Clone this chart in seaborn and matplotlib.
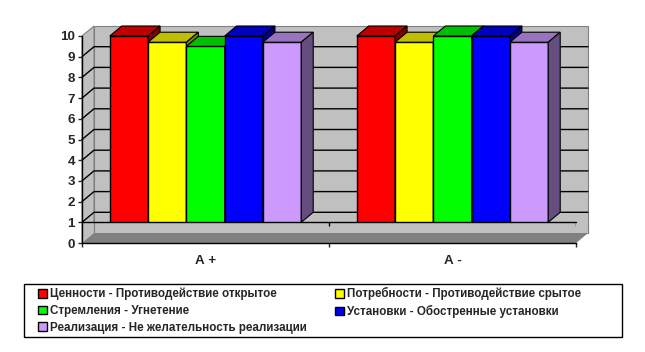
import matplotlib
matplotlib.use("Agg")
import matplotlib.pyplot as plt
import numpy as np
import pandas as pd
import seaborn as sns
from matplotlib.patches import Patch, Polygon, Rectangle

sns.set_style("white")
plt.rcParams['font.family'] = ['Liberation Sans', 'DejaVu Sans']

groups = ["А +", "А -"]
series = ["Ценности - Противодействие открытое",
          "Потребности - Противодействие срытое",
          "Стремления - Угнетение",
          "Установки - Обостренные установки",
          "Реализация - Не желательность реализации"]
group_a_plus = [10, 9.7, 9.5, 10, 9.7]
group_a_minus = [10, 9.7, 10, 10, 9.7]
colors = ["#FF0000", "#FFFF00", "#00FF00", "#0000FF", "#CC99FF"]

data = pd.DataFrame({
    "group": np.repeat(groups, len(series)),
    "series": series * 2,
    "value": group_a_plus + group_a_minus,
})

W, H = 645, 352
fig = plt.figure(figsize=(W / 100, H / 100), dpi=100)
# front plane of the fake 3d box
ax = fig.add_axes([82 / W, 1 - 243 / H, 494 / W, 207 / H])

sns.barplot(data=data, x="group", y="value", hue="series", hue_order=series,
            palette=colors, saturation=1, width=0.775, gap=0,
            edgecolor="black", linewidth=1, legend=False, ax=ax)
bars = sorted([p for p in ax.patches if p.get_height() > 0], key=lambda p: p.get_x())
ax.set_xlim(-0.5, 1.5)
ax.set_ylim(0, 10)
ax.set_xlabel("")
ax.set_ylabel("")

# depth of the box in data units
dx = 12 / 247
dy = 10 / 20.7
base = 1
x0, x1 = ax.get_xlim()


def poly(points, color, z, edge="none", lw=0.8):
    ax.add_patch(Polygon(points, closed=True, facecolor=color, edgecolor=edge,
                         linewidth=lw, zorder=z, clip_on=False))


# walls
poly([(x0 + dx, dy), (x1 + dx, dy), (x1 + dx, 10 + dy), (x0 + dx, 10 + dy)], "#C0C0C0", 1, "#808080")
poly([(x0, 0), (x0 + dx, dy), (x0 + dx, 10 + dy), (x0, 10)], "#C0C0C0", 1, "#808080")
for v in range(1, 10):
    ax.plot([x0, x0 + dx, x1 + dx], [v, v + dy, v + dy], color="black", lw=1, zorder=2, clip_on=False)

# bars left to right, each one covers the side of the previous
for i, p in enumerate(bars):
    z = 3 + i
    p.set_zorder(z)
    left = p.get_x()
    right = left + p.get_width()
    top = p.get_height()
    rgb = np.array(p.get_facecolor()[:3])
    poly([(left, top), (left + dx, top + dy), (right + dx, top + dy), (right, top)], rgb * 0.75, z, "black")
    poly([(right, base), (right + dx, base + dy), (right + dx, top + dy), (right, top)], rgb * 0.5, z, "black")

# floor covers the bars under the crossing value
poly([(x0, 0), (x1, 0), (x1 + dx, dy), (x1 + dx, base), (x0, base)], "#C0C0C0", 30)
poly([(x0, 0), (x1, 0), (x1 + dx, dy), (x0 + dx, dy)], "#808080", 31)
ax.plot([x0 + dx, x0 + dx], [dy, base], color="#808080", lw=0.8, zorder=32, clip_on=False)
ax.plot([x1 + dx, x1 + dx], [dy, base], color="#808080", lw=0.8, zorder=32, clip_on=False)
ax.plot([x0, x1], [base, base], color="black", lw=1, zorder=33, clip_on=False)
ax.vlines([0.5, 1.5], base - 0.2, base, color="black", lw=1, zorder=33)

sns.despine(ax=ax, top=True, right=True)
for side in ["left", "bottom"]:
    ax.spines[side].set_linewidth(1)
    ax.spines[side].set_color("black")
    ax.spines[side].set_zorder(34)

ax.set_yticks(range(0, 11))
ax.set_xticks([-0.5, 0.5, 1.5], minor=True)
ax.set_xticks([0, 1], labels=groups)
ax.tick_params(axis="y", which="major", left=True, length=3, width=1, pad=2, labelsize=9.6)
ax.tick_params(axis="x", which="major", length=0, pad=8.5, labelsize=9.6)
ax.tick_params(axis="x", which="minor", bottom=True, length=3, width=1)
for t in ax.get_xticklabels() + ax.get_yticklabels():
    t.set_fontweight("bold")

# legend box is a bit wider than its content
fig.add_artist(Rectangle((24 / W, 1 - 337 / H), 598 / W, 53 / H, transform=fig.transFigure,
                         facecolor="white", edgecolor="black", linewidth=1))
order = [0, 2, 4, 1, 3]
handles = [Patch(facecolor=colors[i], edgecolor="black", linewidth=1) for i in order]
labels = [series[i] for i in order]
fig.legend(handles, labels, loc="center left", ncol=2, frameon=False,
           bbox_to_anchor=(38 / W, 1 - 310.5 / H), borderaxespad=0, borderpad=0,
           prop={"size": 8.35, "weight": "bold"}, handlelength=0.75, handleheight=0.75,
           handletextpad=0.25, labelspacing=0.4, columnspacing=2.5)

plt.savefig("out.png", dpi=100)
